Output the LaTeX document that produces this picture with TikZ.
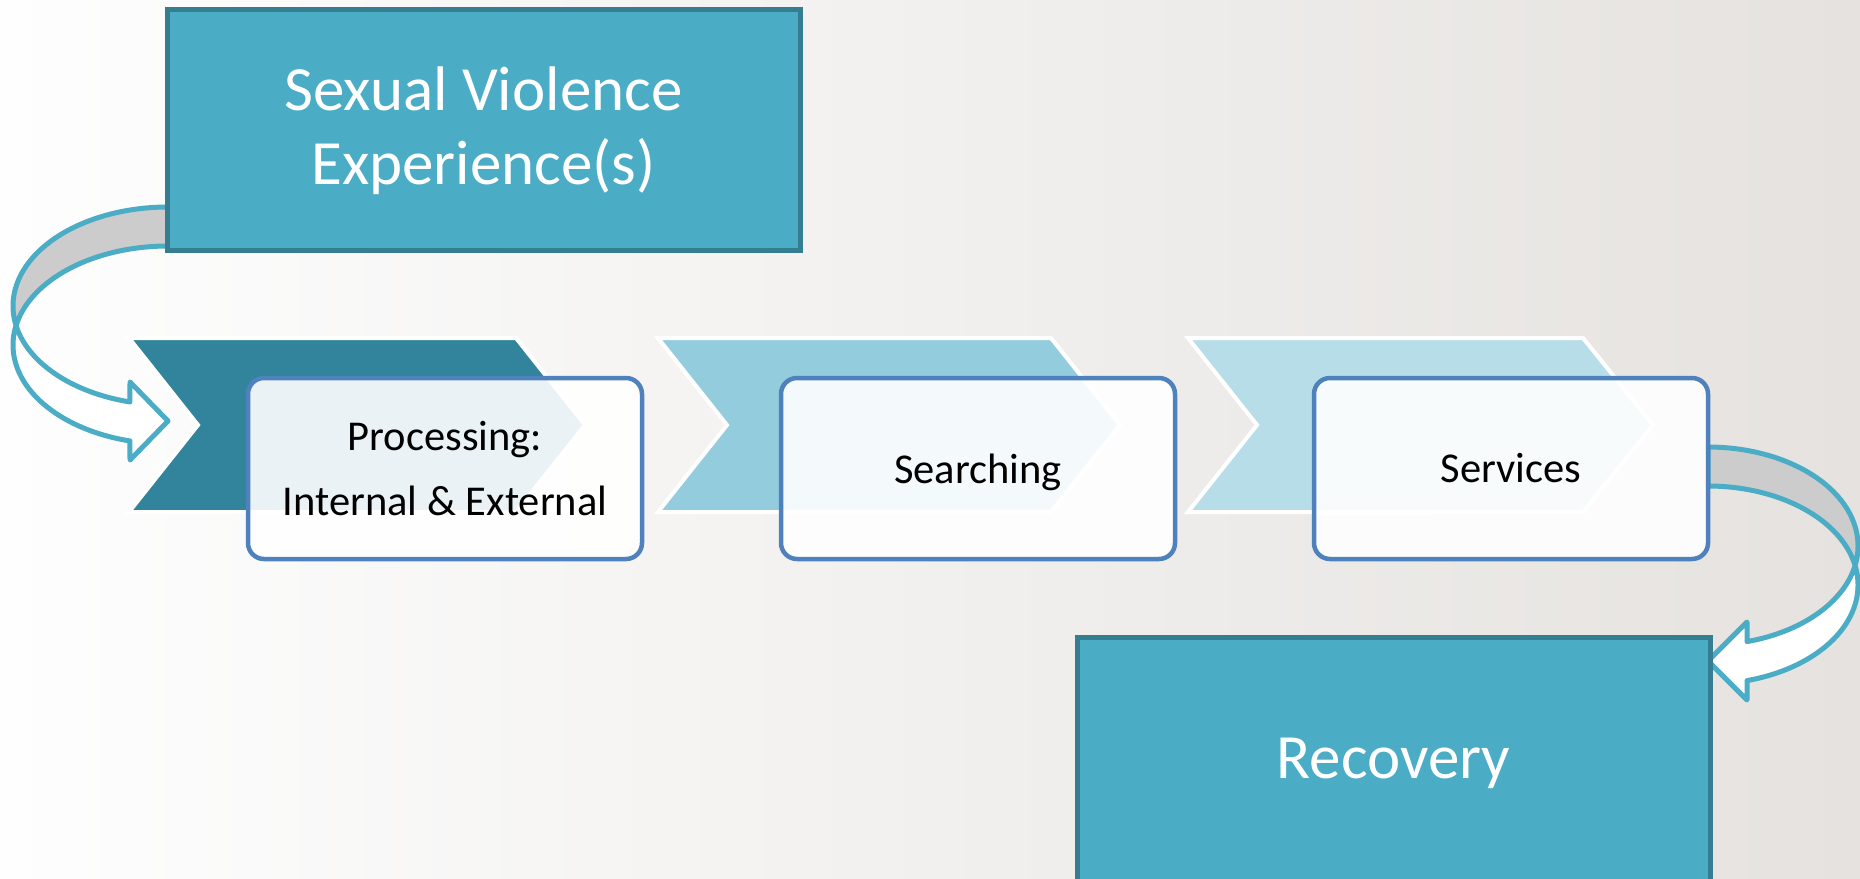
\documentclass[tikz,border=0pt]{standalone}
\usepackage{fontspec}
\setmainfont{Carlito}
\definecolor{bgleft}{HTML}{FEFEFE}
\definecolor{bgright}{HTML}{E5E2DF}
\definecolor{bigfill}{HTML}{4BACC6}
\definecolor{bigedge}{HTML}{357D91}
\definecolor{chevA}{HTML}{31849B}
\definecolor{chevB}{HTML}{93CDDD}
\definecolor{chevC}{HTML}{B7DEE8}
\definecolor{stepedge}{HTML}{4F81BD}
\definecolor{arrowline}{HTML}{4BACC6}
\definecolor{bandgray}{HTML}{CCCCCC}
% lower a label without changing the size of its box
\newcommand{\dropby}[2]{\raisebox{-#1}[\height][\depth]{#2}}
\begin{document}
\begin{tikzpicture}[x=1pt,y=-1pt]
\tikzset{
  bigbox/.style={draw=bigedge, fill=bigfill, line width=5pt, text=white,
    align=center, inner sep=0pt, font=\fontsize{63}{74}\selectfont},
  stepbox/.style={draw=stepedge, fill=white, fill opacity=0.9, text opacity=1,
    line width=4.5pt, rounded corners=16pt, minimum width=394pt,
    minimum height=181pt, align=center, inner sep=0pt,
    font=\fontsize{42.5}{65}\selectfont},
  chev/.style={draw=white, line width=4pt, line join=miter},
  bandback/.style={fill=bandgray},
  bandfront/.style={fill=white},
  bandline/.style={draw=arrowline, line width=5pt, line join=round},
}
% page and background
\useasboundingbox (0,0) rectangle (1860,878);
\shade[left color=bgleft, right color=bgright] (0,0) rectangle (1860,878);

% chevrons behind the step boxes
\path[chev, fill=chevA] (129,338) -- (516,338) -- (585,425) -- (516,512) -- (129,512) -- (198,425) -- cycle;
\path[chev, fill=chevB] (658,338) -- (1051,338) -- (1120,425) -- (1051,512) -- (658,512) -- (727,425) -- cycle;
\path[chev, fill=chevC] (1188,338) -- (1583,338) -- (1653,425) -- (1583,512) -- (1188,512) -- (1257,425) -- cycle;

% curved arrow from the top box down to the first step
\fill[bandback] plot[domain=270:168.64,samples=60] ({168+155*cos(\x)},{306+99*sin(\x)})
  -- plot[domain=191.36:270,samples=60] ({168+155*cos(\x)},{345+99*sin(\x)}) -- cycle;
\fill[bandfront] plot[domain=191.36:104.2,samples=60] ({168+155*cos(\x)},{345+99*sin(\x)})
  -- (130,460) -- (168,421) -- (130,382)
  -- plot[domain=104.2:168.64,samples=60] ({168+155*cos(\x)},{306+99*sin(\x)}) -- cycle;
\draw[bandline] plot[domain=270:104.2,samples=100] ({168+155*cos(\x)},{306+99*sin(\x)})
  -- (130,382) -- (168,421) -- (130,460)
  -- plot[domain=104.2:270,samples=100] ({168+155*cos(\x)},{345+99*sin(\x)}) -- cycle;

% curved arrow from the last step down to recovery
\fill[bandback] plot[domain=270:371.36,samples=60] ({1708+150*cos(\x)},{546+99*sin(\x)})
  -- plot[domain=348.64:270,samples=60] ({1708+150*cos(\x)},{585+99*sin(\x)}) -- cycle;
\fill[bandfront] plot[domain=348.64:434.93,samples=60] ({1708+150*cos(\x)},{585+99*sin(\x)})
  -- (1747,700) -- (1708,661) -- (1747,622)
  -- plot[domain=434.93:371.36,samples=60] ({1708+150*cos(\x)},{546+99*sin(\x)}) -- cycle;
\draw[bandline] plot[domain=270:434.93,samples=100] ({1708+150*cos(\x)},{546+99*sin(\x)})
  -- (1747,622) -- (1708,661) -- (1747,700)
  -- plot[domain=434.93:270,samples=100] ({1708+150*cos(\x)},{585+99*sin(\x)}) -- cycle;

% step boxes
\node[stepbox] (processing) at (445,468.5) {Processing:\\Internal \& External};
\node[stepbox] (searching) at (978,468.5) {\dropby{3.5pt}{Searching}};
\node[stepbox] (services) at (1511,468.5) {Services};

% start and end boxes
\node[bigbox, minimum width=633pt, minimum height=241pt] (experience) at (483.5,129.5)
  {\dropby{3.5pt}{\begin{tabular}{@{}c@{}}Sexual Violence\\Experience(s)\end{tabular}}};
\node[bigbox, minimum width=633pt, minimum height=244pt] (recovery) at (1393.5,759)
  {\dropby{4.5pt}{Recovery}};
\end{tikzpicture}
\end{document}
